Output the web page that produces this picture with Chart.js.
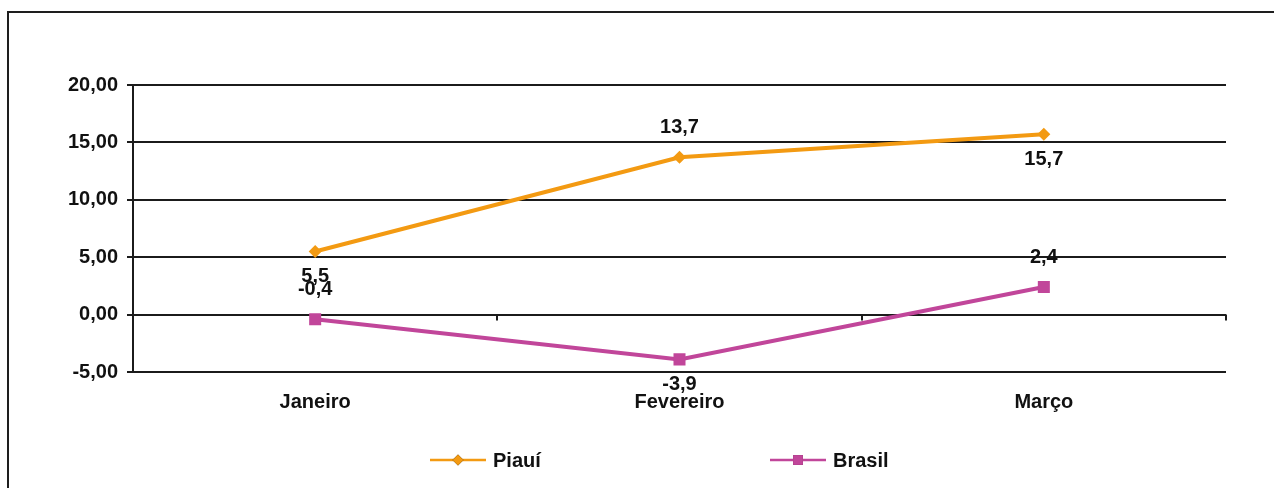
<!DOCTYPE html>
<html>
<head>
<meta charset="utf-8">
<script src="https://cdn.jsdelivr.net/npm/chart.js@4/dist/chart.umd.min.js"></script>
<style>
    html, body { margin: 0; padding: 0; background: #fff; overflow: hidden; }
    #frame {
        position: absolute; left: 7px; top: 11px;
        width: 1267px; height: 477px;
        border-left: 2px solid #1e1e1e; border-top: 2px solid #1e1e1e;
    }
    #frame canvas { display: block; }
</style>
</head>
<body>
<div id="frame"><canvas id="indiceChart" width="1267" height="475"></canvas></div>
<script>
// Meses e variações (%)
const meses = ['Janeiro', 'Fevereiro', 'Março'];
const piaui = [5.5, 13.7, 15.7];
const brasil = [-0.4, -3.9, 2.4];
const yTicks = [-5, 0, 5, 10, 15, 20];

// onde fica o rótulo de cada ponto
const piauiRotulo = ['below', 'above', 'below'];
const brasilRotulo = ['above', 'below', 'above'];

const LARANJA = '#F39A12';
const MAGENTA = '#C1469A';
const PRETO = '#1b1b1b';

Chart.defaults.font.family = "'Liberation Sans', Arial, sans-serif";
Chart.defaults.font.size = 20;
Chart.defaults.font.weight = 'bold';
Chart.defaults.color = '#111';

const fmt = (v, d) => v.toFixed(d).replace('.', ',');

// rótulos de valor nos pontos
const rotulosPlugin = {
    id: 'rotulos',
    afterDatasetsDraw(chart) {
        const ctx = chart.ctx;
        ctx.save();
        ctx.font = "bold 20px 'Liberation Sans', Arial, sans-serif";
        ctx.fillStyle = '#111';
        ctx.textAlign = 'center';
        ctx.textBaseline = 'middle';
        chart.data.datasets.forEach((ds, i) => {
            chart.getDatasetMeta(i).data.forEach((pt, j) => {
                const dy = ds.rotulos[j] === 'above' ? -30 : 25;
                ctx.fillText(fmt(ds.data[j], 1), pt.x, pt.y + dy);
            });
        });
        ctx.restore();
    }
};

// eixo das categorias cruzando no zero, com traços de divisão
const eixoZeroPlugin = {
    id: 'eixoZero',
    afterDraw(chart) {
        const { ctx, scales: { x, y } } = chart;
        const y0 = y.getPixelForValue(0);
        const passo = x.getPixelForValue(1) - x.getPixelForValue(0);
        ctx.save();
        ctx.strokeStyle = PRETO;
        ctx.lineWidth = 2;
        ctx.beginPath();
        for (let i = 0; i < meses.length; i++) {
            const px = Math.round(x.getPixelForValue(i) + passo / 2);
            ctx.moveTo(px, y0);
            ctx.lineTo(px, y0 + 6);
        }
        ctx.stroke();
        ctx.restore();
    }
};

// legenda com linha e marcador
const legendaPlugin = {
    id: 'legenda',
    afterDraw(chart) {
        const ctx = chart.ctx;
        const yl = 447;
        const itens = [421, 761];
        ctx.save();
        chart.data.datasets.forEach((ds, i) => {
            const x0 = itens[i];
            ctx.strokeStyle = ds.borderColor;
            ctx.lineWidth = 2.5;
            ctx.beginPath();
            ctx.moveTo(x0, yl);
            ctx.lineTo(x0 + 56, yl);
            ctx.stroke();
            Chart.helpers.drawPoint(ctx, {
                pointStyle: ds.pointStyle,
                radius: ds.pointStyle === 'rect' ? 7 : 5.5,
                borderWidth: 0
            }, x0 + 28, yl);
            ctx.fillStyle = ds.borderColor;
            ctx.fill();
            ctx.fillStyle = '#111';
            ctx.font = "bold 20px 'Liberation Sans', Arial, sans-serif";
            ctx.textBaseline = 'middle';
            ctx.textAlign = 'left';
            ctx.fillText(ds.label, x0 + 63, yl + 1);
        });
        ctx.restore();
    }
};

new Chart(document.getElementById('indiceChart').getContext('2d'), {
    type: 'line',
    data: {
        labels: meses,
        datasets: [{
            label: 'Piauí',
            data: piaui,
            rotulos: piauiRotulo,
            borderColor: LARANJA,
            backgroundColor: LARANJA,
            borderWidth: 4,
            pointStyle: 'rectRot',
            pointRadius: 6.5,
            pointBorderWidth: 0,
            tension: 0,
            fill: false
        }, {
            label: 'Brasil',
            data: brasil,
            rotulos: brasilRotulo,
            borderColor: MAGENTA,
            backgroundColor: MAGENTA,
            borderWidth: 4,
            pointStyle: 'rect',
            pointRadius: 8.5,
            pointBorderWidth: 0,
            tension: 0,
            fill: false
        }]
    },
    options: {
        responsive: false,
        animation: false,
        layout: { padding: { top: 72, right: 50, bottom: 76, left: 0 } },
        plugins: {
            legend: { display: false },
            tooltip: { enabled: false }
        },
        scales: {
            x: {
                offset: true,
                grid: { display: false, drawTicks: false },
                border: { display: false },
                ticks: { padding: 18, color: '#111' },
                afterFit: s => { s.height = 40; }
            },
            y: {
                min: -5,
                max: 20,
                afterBuildTicks: s => { s.ticks = yTicks.map(v => ({ value: v })); },
                grid: { color: PRETO, lineWidth: 2, tickLength: 6, tickColor: PRETO },
                border: { display: true, color: PRETO, width: 2 },
                ticks: { padding: 9, color: '#111', callback: v => fmt(v, 2) },
                afterFit: s => { s.width = 124; }
            }
        }
    },
    plugins: [rotulosPlugin, eixoZeroPlugin, legendaPlugin]
});
</script>
</body>
</html>
